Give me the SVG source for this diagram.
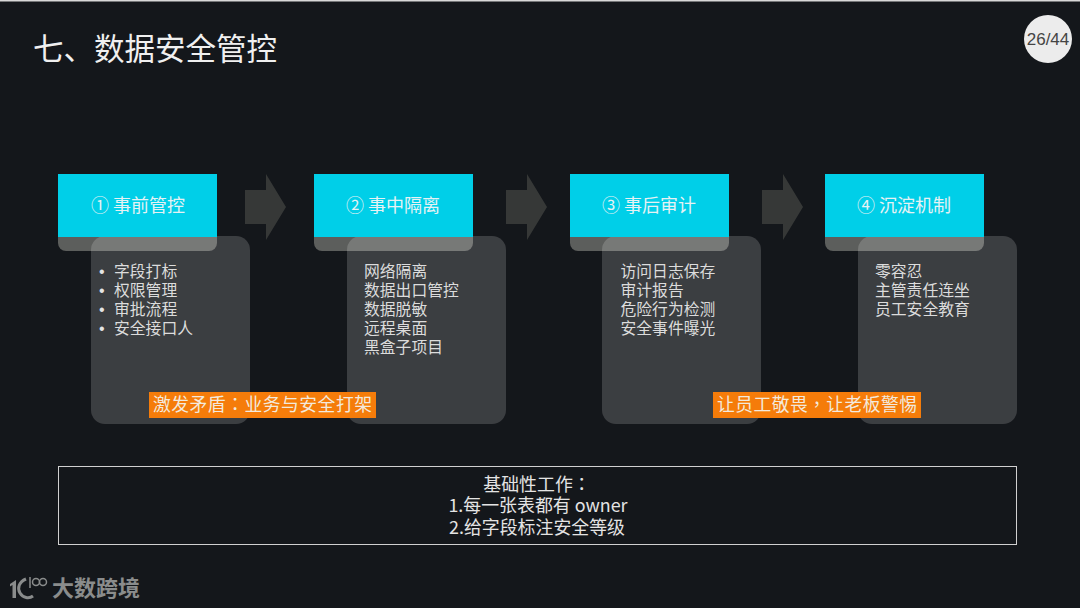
<svg xmlns="http://www.w3.org/2000/svg" width="1080" height="608" viewBox="0 0 1080 608">
<style>
text{font-family:"Noto Sans CJK SC","Liberation Sans",sans-serif}
.tc{font-family:"Noto Sans CJK TC",sans-serif}
.h{fill:#00cfe8}
.tab{fill:#5c5e5c}
.card{fill:#fff;fill-opacity:.17}
.ht{fill:#e6f2f4;font-size:18px;text-anchor:middle}
.b{fill:#dcdcdc;font-size:15.8px}
.bu{fill:#e4e4e4;font-size:16px;font-family:"Liberation Sans",sans-serif}
.o{fill:#f57c0a}
.ot{fill:#f3e9dc;font-size:17.8px}
.ar{fill:#363837}
.f{fill:#e4e4e4;font-size:17.9px;text-anchor:middle}
</style>
<rect width="1080" height="608" fill="#14171b"/>
<rect width="1080" height="1.500" fill="#d8d8d8"/>
<text id="title" x="33" y="60" font-size="30.500" fill="#f0f0f0">七、数据安全管控</text>
<g id="page"><circle cx="1048" cy="39" r="24" fill="#ececec"/><text x="1048" y="45" font-size="17" fill="#444" text-anchor="middle" style="font-family:'Liberation Sans',sans-serif">26/44</text></g>
<g id="connectors">
<path class="ar" d="M245 190H266V174L286 207L266 240V224H245Z"/>
<path class="ar" d="M506 190H527V174L547 207L527 240V224H506Z"/>
<path class="ar" d="M762 190H783V174L803 207L783 240V224H762Z"/>
</g>
<g id="step1">
<rect class="tab" x="58" y="225" width="159" height="26" rx="8"/>
<rect class="card" x="91" y="236" width="159" height="188" rx="14"/>
<rect class="h" x="58" y="174" width="159" height="63"/>
<text class="ht" x="138" y="212">① 事前管控</text>
<text class="bu"><tspan x="99" y="277">•</tspan><tspan x="99" y="296">•</tspan><tspan x="99" y="315">•</tspan><tspan x="99" y="334">•</tspan></text>
<text class="b"><tspan x="114" y="277">字段打标</tspan><tspan x="114" y="296">权限管理</tspan><tspan x="114" y="315">审批流程</tspan><tspan x="114" y="334">安全接口人</tspan></text>
</g>
<g id="step2">
<rect class="tab" x="314" y="225" width="159" height="26" rx="8"/>
<rect class="card" x="347" y="236" width="159" height="188" rx="14"/>
<rect class="h" x="314" y="174" width="159" height="63"/>
<text class="ht" x="393" y="212">② 事中隔离</text>
<text class="b"><tspan x="364" y="277">网络隔离</tspan><tspan x="364" y="296">数据出口管控</tspan><tspan x="364" y="315">数据脱敏</tspan><tspan x="364" y="334">远程桌面</tspan><tspan x="364" y="353">黑盒子项目</tspan></text>
</g>
<g id="step3">
<rect class="tab" x="570" y="225" width="159" height="26" rx="8"/>
<rect class="card" x="602" y="236" width="159" height="188" rx="14"/>
<rect class="h" x="570" y="174" width="159" height="63"/>
<text class="ht" x="649" y="212">③ 事后审计</text>
<text class="b"><tspan x="620.500" y="277">访问日志保存</tspan><tspan x="620.500" y="296">审计报告</tspan><tspan x="620.500" y="315">危险行为检测</tspan><tspan x="620.500" y="334">安全事件曝光</tspan></text>
</g>
<g id="step4">
<rect class="tab" x="825" y="225" width="159" height="26" rx="8"/>
<rect class="card" x="858" y="236" width="159" height="188" rx="14"/>
<rect class="h" x="825" y="174" width="159" height="63"/>
<text class="ht" x="904" y="212">④ 沉淀机制</text>
<text class="b"><tspan x="875" y="277">零容忍</tspan><tspan x="875" y="296">主管责任连坐</tspan><tspan x="875" y="315">员工安全教育</tspan></text>
</g>
<g id="note1"><rect class="o" x="149" y="392" width="227" height="26"/><text class="ot" x="153" y="411" textLength="219">激发矛盾<tspan class="tc">：</tspan>业务与安全打架</text></g>
<g id="note2"><rect class="o" x="713" y="392" width="208" height="26"/><text class="ot" x="717" y="411" textLength="200">让员工敬畏<tspan class="tc">，</tspan>让老板警惕</text></g>
<g id="base">
<rect x="58.500" y="466.500" width="958" height="78" fill="none" stroke="#d0d0d0"/>
<text class="f"><tspan x="537" y="491">基础性工作<tspan class="tc">：</tspan></tspan><tspan x="538" y="512">1.每一张表都有 owner</tspan><tspan x="537" y="534">2.给字段标注安全等级</tspan></text>
</g>
<g id="logo" fill="#8a8c8c">
<path d="M10 584l6-4v18h-3.500v-13l-2.500 1.500z"/>
<path d="M26 579C19 582 17 588 20 593C23 598 29 599 33 596" fill="none" stroke="#8a8c8c" stroke-width="3"/>
<path d="M30 577v11" stroke="#8a8c8c" stroke-width="1.500"/>
<circle cx="36" cy="582" r="3.500" fill="none" stroke="#8a8c8c" stroke-width="1.500"/><circle cx="43" cy="582" r="3.500" fill="none" stroke="#8a8c8c" stroke-width="1.500"/>
<text x="52" y="596" font-size="22" font-weight="700">大数跨境</text>
</g>
</svg>
